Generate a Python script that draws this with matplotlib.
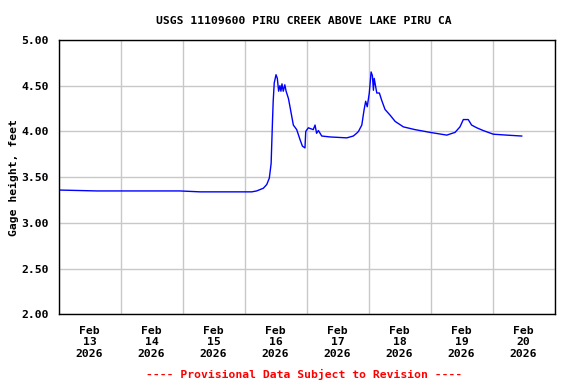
import pandas as pd
import matplotlib.pyplot as plt
import matplotlib.dates as mdates

# gage height readings, hours after Feb 13 2026 00:00
hours = [0, 14.9, 35.4, 47, 54.8, 70.3, 74.8, 76.7, 79.3, 80.6, 81.6, 82.3, 82.8,
         83.1, 83.5, 84.2, 84.7, 85.2, 85.7, 86.1, 86.5, 87.0, 87.6, 88.1, 89.0,
         89.6, 90.9, 92.2, 93.5, 94.4, 95.4, 95.7, 96.7, 98.6, 99.3, 99.9, 100.6,
         101.9, 105.1, 111.6, 114.1, 115.4, 116.1, 117.4, 118.3, 118.9, 119.5,
         120.3, 121.0, 121.5, 121.9, 122.2, 123.2, 124.2, 125.1, 126.4, 128.3,
         130.3, 133.5, 138.0, 143.8, 150.3, 153.5, 155.4, 156.7, 158.6, 159.9,
         161.9, 164.4, 168.3, 173.5, 179.3]
gage_ft = [3.36, 3.35, 3.35, 3.35, 3.34, 3.34, 3.34, 3.35, 3.38, 3.42, 3.49, 3.65, 4.09,
           4.33, 4.53, 4.62, 4.58, 4.44, 4.50, 4.44, 4.52, 4.44, 4.51, 4.44, 4.36,
           4.27, 4.07, 4.02, 3.91, 3.84, 3.82, 4.00, 4.04, 4.02, 4.07, 3.98, 4.01,
           3.95, 3.94, 3.93, 3.95, 3.98, 4.00, 4.07, 4.24, 4.33, 4.27,
           4.42, 4.65, 4.61, 4.45, 4.58, 4.42, 4.42, 4.34, 4.24, 4.18,
           4.11, 4.05, 4.02, 3.99, 3.96, 3.99, 4.05, 4.13, 4.13, 4.07,
           4.04, 4.01, 3.97, 3.96, 3.95]
y_ticks = [2.0, 2.5, 3.0, 3.5, 4.0, 4.5, 5.0]

start = pd.Timestamp("2026-02-13")
times = start + pd.to_timedelta(hours, unit="h")

mono = "DejaVu Sans Mono"
fig = plt.figure(figsize=(5.76, 3.84), dpi=100)
ax = fig.add_axes([0.1016, 0.181, 0.8611, 0.715])

ax.plot(times, gage_ft, color="#0000ff", linewidth=1)

ax.set_xlim(start, start + pd.Timedelta(days=8))
ax.set_ylim(2.0, 5.0)
ax.set_yticks(y_ticks)
ax.set_yticklabels([f"{v:.2f}" for v in y_ticks], fontfamily=mono, fontweight="bold", fontsize=8.2)

# gridlines at midnight, labels at noon
ax.xaxis.set_major_locator(mdates.DayLocator())
ax.xaxis.set_major_formatter(plt.NullFormatter())
ax.xaxis.set_minor_locator(mdates.HourLocator(byhour=12))
ax.xaxis.set_minor_formatter(mdates.DateFormatter("%b\n%d\n%Y"))
for lbl in ax.xaxis.get_minorticklabels():
    lbl.set_fontfamily(mono)
    lbl.set_fontweight("bold")
    lbl.set_fontsize(8.2)
    lbl.set_linespacing(1.2)
ax.tick_params(axis="both", which="both", length=0)
ax.tick_params(axis="x", which="minor", pad=8)
ax.tick_params(axis="y", pad=7)

ax.grid(True, which="major", color="#c8c8c8", linewidth=1)
ax.set_axisbelow(True)
for s in ax.spines.values():
    s.set_linewidth(1)

ax.set_ylabel("Gage height, feet", fontfamily=mono, fontweight="bold", fontsize=8.2, labelpad=2)
fig.text(0.528, 0.946, "USGS 11109600 PIRU CREEK ABOVE LAKE PIRU CA",
         ha="center", va="center", fontfamily=mono, fontweight="bold", fontsize=8.2)
fig.text(0.528, 0.025, "---- Provisional Data Subject to Revision ----",
         ha="center", va="center", fontfamily=mono, fontweight="bold", fontsize=8.2, color="red")

fig.savefig("out.png", dpi=100)
